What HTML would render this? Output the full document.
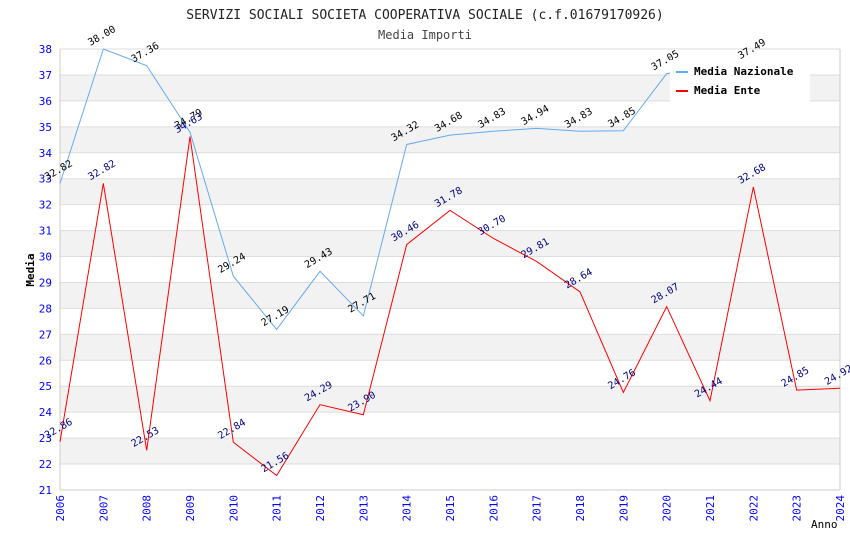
<!DOCTYPE html>
<html><head><meta charset="utf-8"><style>
body{margin:0;background:#fff}
svg text{font-family:"DejaVu Sans Mono","Liberation Mono",monospace}
</style></head><body>
<svg id="c" width="850" height="550" xmlns="http://www.w3.org/2000/svg">
<text x="425" y="19" text-anchor="middle" font-size="13" fill="#222">SERVIZI SOCIALI SOCIETA COOPERATIVA SOCIALE (c.f.01679170926)</text>
<text x="425" y="39" text-anchor="middle" font-size="12" fill="#444">Media Importi</text>
<g id="bands"></g><g id="grid"></g><g id="axes"></g><g id="lines"></g><g id="labels"></g>
<text x="34" y="270" transform="rotate(-90 34 270)" text-anchor="middle" font-size="11" font-weight="bold" fill="#000">Media</text>
<text x="811" y="528" font-size="11" fill="#000">Anno</text>
<g>
<rect x="670" y="60" width="140" height="42" fill="#fff"/>
<line x1="676" y1="72" x2="688" y2="72" stroke="#66aaee" stroke-width="2"/>
<text x="694" y="75" font-size="11" font-weight="bold">Media Nazionale</text>
<line x1="676" y1="91" x2="688" y2="91" stroke="#ff0000" stroke-width="2"/>
<text x="694" y="94" font-size="11" font-weight="bold">Media Ente</text>
</g>
</svg>
<script>
const years=[2006,2007,2008,2009,2010,2011,2012,2013,2014,2015,2016,2017,2018,2019,2020,2021,2022,2023,2024];
const nazionale=[32.82,38.00,37.36,34.79,29.24,27.19,29.43,27.71,34.32,34.68,34.83,34.94,34.83,34.85,37.05,null,37.49,null,null];
const ente=[22.86,32.82,22.53,34.63,22.84,21.56,24.29,23.90,30.46,31.78,30.70,29.81,28.64,24.76,28.07,24.44,32.68,24.85,24.92];
const yTicks=[21,22,23,24,25,26,27,28,29,30,31,32,33,34,35,36,37,38];
const X0=60,X1=840,Y0=490,Y1=49,ymin=21,ymax=38;
const xs=i=>X0+(X1-X0)*i/(years.length-1);
const ys=v=>Y0-(Y0-Y1)*(v-ymin)/(ymax-ymin);
const NS="http://www.w3.org/2000/svg";
function mk(t,a,p){const e=document.createElementNS(NS,t);for(const k in a)e.setAttribute(k,a[k]);p.appendChild(e);return e;}
const bands=document.getElementById('bands'),grid=document.getElementById('grid'),axes=document.getElementById('axes'),lines=document.getElementById('lines'),labels=document.getElementById('labels');
for(let v=ymin;v<ymax;v++){if(v%2===0){const r=mk('rect',{x:X0,y:ys(v+1),width:X1-X0,height:ys(v)-ys(v+1),fill:'#f2f2f2'},bands);

}}
yTicks.forEach(v=>{const l=mk('line',{x1:X0,x2:X1,y1:ys(v),y2:ys(v),stroke:'#dddddd'},grid);


const t=mk('text',{x:X0-8,y:ys(v)+4,'text-anchor':'end','font-size':11,fill:'#0000ff'},axes);t.textContent=v;

});
mk('line',{x1:X0,x2:X0,y1:Y1,y2:Y0,stroke:'#ccc'},axes);
mk('line',{x1:X1,x2:X1,y1:Y1,y2:Y0,stroke:'#ccc'},axes);
mk('line',{x1:X0,x2:X1,y1:Y0,y2:Y0,stroke:'#ccc'},axes);
years.forEach((y,i)=>{const x=xs(i);const t=mk('text',{x:x+4,y:Y0+5,'text-anchor':'end','font-size':11,fill:'#0000ff',transform:`rotate(-90 ${x+4} ${Y0+5})`},axes);t.textContent=y;

});
function series(arr,color,lc,name){let d='';let started=false;arr.forEach((v,i)=>{if(v==null)return;d+=(started?'L':'M')+xs(i)+' '+ys(v);started=true;});
const p=mk('path',{d:d,fill:'none',stroke:color,'stroke-width':1},lines);


arr.forEach((v,i)=>{if(v==null)return;const x=xs(i)-13,y=ys(v)-3;const t=mk('text',{x:x,y:y,'font-size':10,fill:lc,transform:`rotate(-30 ${x} ${y})`},labels);t.textContent=v.toFixed(2);

});}
series(nazionale,'#66aaee','#000','nazionale');
series(ente,'#ff0000','#000080','ente');
</script>
</body></html>
